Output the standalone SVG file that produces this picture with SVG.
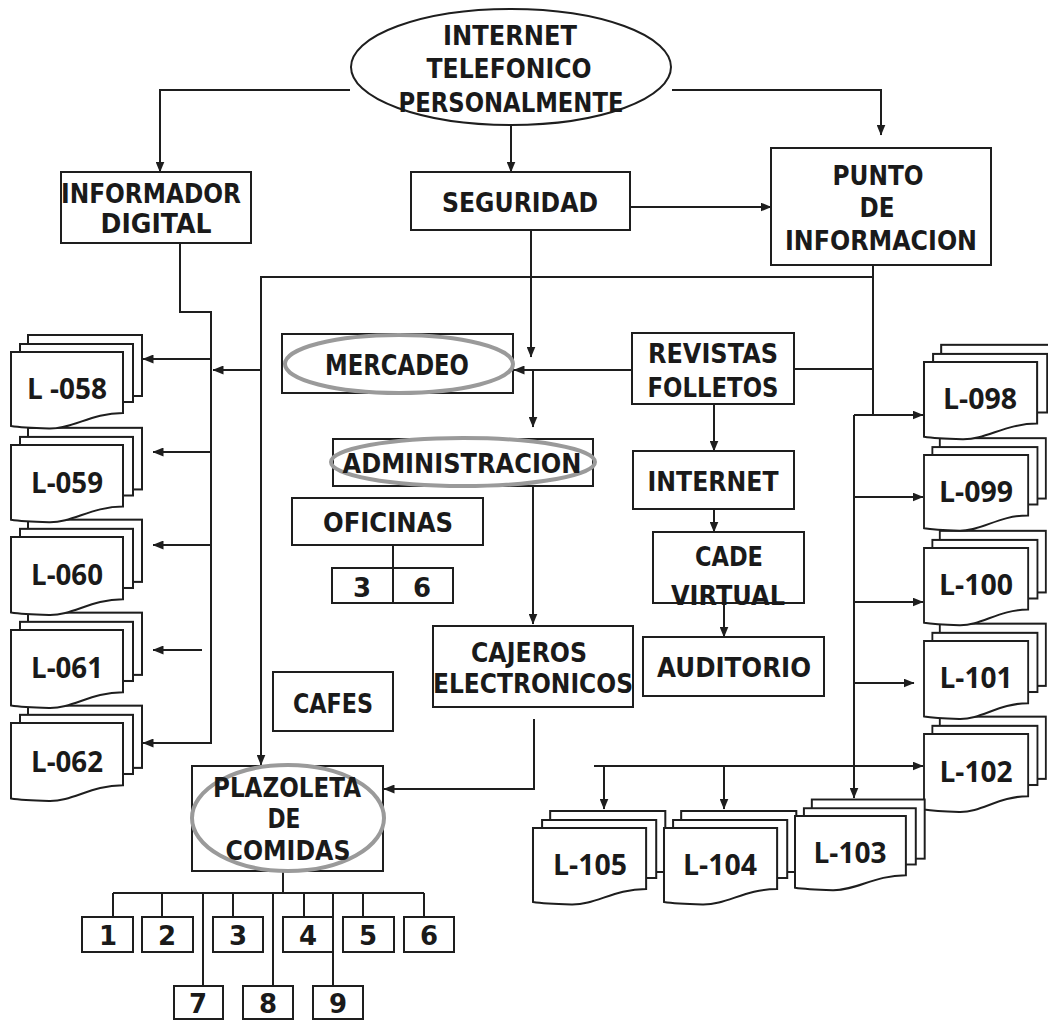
<svg xmlns="http://www.w3.org/2000/svg" xmlns:xlink="http://www.w3.org/1999/xlink" width="1048" height="1021" viewBox="0 0 1048 1021">
  <style>
    .box{fill:#fff;stroke:#1e1e1e;stroke-width:2}
    .ln{fill:none;stroke:#1e1e1e;stroke-width:2}
    .hl{fill:none;stroke:#9a9a9a;stroke-width:4}
    .sheet{fill:#fff;stroke:#1e1e1e;stroke-width:2}
    .lbl{font-family:"DejaVu Sans",Verdana,sans-serif;font-weight:bold;font-size:26px;fill:#1a1a1a;text-anchor:middle}
    .doc{font-family:"Open Sans","Noto Sans",sans-serif;font-weight:bold;font-size:28px;fill:#1a1a1a;text-anchor:middle}
  </style>
  <defs>
    <marker id="ah" markerWidth="11" markerHeight="9" refX="10.5" refY="4.5" orient="auto" markerUnits="userSpaceOnUse">
      <path d="M0,0 L11,4.5 L0,9 Z" fill="#1e1e1e"/>
    </marker>
    <!-- three stacked sheets; front sheet origin at 0,0 -->
    <g id="sheets">
      <rect class="sheet" x="17" y="-17" width="114" height="61"/>
      <rect class="sheet" x="9" y="-8" width="113" height="58"/>
      <path class="sheet" d="M0,0 H112 V61 C80,61 62,77 38,76.5 C22,76 10,75.5 0,74 Z"/>
    </g>
  </defs>

  <rect width="1048" height="1021" fill="#fff"/>

  <!-- connectors -->
  <g id="connectors">
    <path class="ln" d="M350,90 H160 V172" marker-end="url(#ah)"/>
    <path class="ln" d="M672,90 H881 V135" marker-end="url(#ah)"/>
    <path class="ln" d="M511,125 V172" marker-end="url(#ah)"/>
    <path class="ln" d="M630,207 H771" marker-end="url(#ah)"/>

    <path class="ln" d="M180,243 V312 H211 V743 H143" marker-end="url(#ah)"/>
    <path class="ln" d="M211,359 H143" marker-end="url(#ah)"/>
    <path class="ln" d="M211,452 H153" marker-end="url(#ah)"/>
    <path class="ln" d="M211,545 H153" marker-end="url(#ah)"/>
    <path class="ln" d="M202,650 H153" marker-end="url(#ah)"/>

    <path class="ln" d="M873,265 V415 H854"/>
    <path class="ln" d="M854,415 H923" marker-end="url(#ah)"/>
    <path class="ln" d="M873,277 H261 V765" marker-end="url(#ah)"/>
    <path class="ln" d="M261,370 H213" marker-end="url(#ah)"/>

    <path class="ln" d="M531,230 V357" marker-end="url(#ah)"/>
    <path class="ln" d="M632,370 H514" marker-end="url(#ah)"/>
    <path class="ln" d="M533,370 V427" marker-end="url(#ah)"/>
    <path class="ln" d="M533,486 V624" marker-end="url(#ah)"/>
    <path class="ln" d="M393,545 V568"/>

    <path class="ln" d="M794,369 H873"/>
    <path class="ln" d="M714,404 V451" marker-end="url(#ah)"/>
    <path class="ln" d="M714,509 V532" marker-end="url(#ah)"/>
    <path class="ln" d="M724,603 V637" marker-end="url(#ah)"/>

    <path class="ln" d="M534,719 V789 H384" marker-end="url(#ah)"/>

    <path class="ln" d="M854,415 V798" marker-end="url(#ah)"/>
    <path class="ln" d="M854,497 H923" marker-end="url(#ah)"/>
    <path class="ln" d="M854,602 H923" marker-end="url(#ah)"/>
    <path class="ln" d="M854,683 H914" marker-end="url(#ah)"/>
    <path class="ln" d="M594,766 H923" marker-end="url(#ah)"/>
    <path class="ln" d="M604,766 V809" marker-end="url(#ah)"/>
    <path class="ln" d="M724,766 V809" marker-end="url(#ah)"/>

    <path class="ln" d="M283,871 V893 M113,893 H424 M113,893 V917 M162,893 V917 M233,893 V917 M304,893 V917 M363,893 V917 M424,893 V917 M203,893 V986 M273,893 V986 M333,893 V986"/>
  </g>

  <!-- top source -->
  <g id="canales">
    <ellipse cx="511" cy="67" rx="160" ry="58" fill="#fff" stroke="#1e1e1e" stroke-width="2"/>
    <text class="lbl" x="510" y="45" textLength="134" lengthAdjust="spacingAndGlyphs">INTERNET</text>
    <text class="lbl" x="509" y="78" textLength="165" lengthAdjust="spacingAndGlyphs">TELEFONICO</text>
    <text class="lbl" x="511" y="112" textLength="225" lengthAdjust="spacingAndGlyphs">PERSONALMENTE</text>
  </g>

  <g id="informador">
    <rect class="box" x="61" y="172" width="190" height="71"/>
    <text class="lbl" x="151" y="203" textLength="180" lengthAdjust="spacingAndGlyphs">INFORMADOR</text>
    <text class="lbl" x="156" y="233" textLength="111" lengthAdjust="spacingAndGlyphs">DIGITAL</text>
  </g>

  <g id="seguridad">
    <rect class="box" x="411" y="172" width="219" height="58"/>
    <text class="lbl" x="520" y="212" textLength="156" lengthAdjust="spacingAndGlyphs">SEGURIDAD</text>
  </g>

  <g id="punto">
    <rect class="box" x="771" y="148" width="220" height="117"/>
    <text class="lbl" x="878" y="185" textLength="91" lengthAdjust="spacingAndGlyphs">PUNTO</text>
    <text class="lbl" x="877" y="217" textLength="35" lengthAdjust="spacingAndGlyphs">DE</text>
    <text class="lbl" x="881" y="250" textLength="192" lengthAdjust="spacingAndGlyphs">INFORMACION</text>
  </g>

  <g id="mercadeo">
    <rect class="box" x="282" y="334" width="231" height="59"/>
    <ellipse class="hl" cx="399" cy="364" rx="114" ry="29"/>
    <text class="lbl" x="397" y="375" style="font-size:28px" textLength="144" lengthAdjust="spacingAndGlyphs">MERCADEO</text>
  </g>

  <g id="revistas">
    <rect class="box" x="632" y="333" width="162" height="71"/>
    <text class="lbl" x="713" y="363" textLength="130" lengthAdjust="spacingAndGlyphs">REVISTAS</text>
    <text class="lbl" x="713" y="397" textLength="131" lengthAdjust="spacingAndGlyphs">FOLLETOS</text>
  </g>

  <g id="administracion">
    <rect class="box" x="333" y="439" width="260" height="47"/>
    <ellipse class="hl" cx="463" cy="462" rx="132" ry="24"/>
    <text class="lbl" x="462" y="473" textLength="239" lengthAdjust="spacingAndGlyphs">ADMINISTRACION</text>
  </g>

  <g id="internet">
    <rect class="box" x="633" y="451" width="161" height="58"/>
    <text class="lbl" x="713" y="491" textLength="131" lengthAdjust="spacingAndGlyphs">INTERNET</text>
  </g>

  <g id="oficinas">
    <rect class="box" x="292" y="498" width="191" height="47"/>
    <text class="lbl" x="388" y="532" textLength="130" lengthAdjust="spacingAndGlyphs">OFICINAS</text>
  </g>

  <g id="oficinas-numeros">
    <rect class="box" x="332" y="568" width="121" height="35"/>
    <path class="ln" d="M393,568 V603"/>
    <text class="lbl" x="362" y="597">3</text>
    <text class="lbl" x="422" y="597">6</text>
  </g>

  <g id="cade">
    <rect class="box" x="653" y="532" width="151" height="71"/>
    <text class="lbl" x="729" y="566" textLength="68" lengthAdjust="spacingAndGlyphs">CADE</text>
    <text class="lbl" x="728" y="605" textLength="114" lengthAdjust="spacingAndGlyphs">VIRTUAL</text>
  </g>

  <g id="cajeros">
    <rect class="box" x="433" y="626" width="200" height="81"/>
    <text class="lbl" x="529" y="662" textLength="116" lengthAdjust="spacingAndGlyphs">CAJEROS</text>
    <text class="lbl" x="533" y="693" textLength="200" lengthAdjust="spacingAndGlyphs">ELECTRONICOS</text>
  </g>

  <g id="auditorio">
    <rect class="box" x="643" y="637" width="181" height="59"/>
    <text class="lbl" x="734" y="677" textLength="154" lengthAdjust="spacingAndGlyphs">AUDITORIO</text>
  </g>

  <g id="cafes">
    <rect class="box" x="273" y="672" width="120" height="59"/>
    <text class="lbl" x="333" y="713" textLength="80" lengthAdjust="spacingAndGlyphs">CAFES</text>
  </g>

  <g id="plazoleta">
    <rect class="box" x="192" y="766" width="191" height="105"/>
    <ellipse class="hl" cx="288" cy="818" rx="96" ry="53"/>
    <text class="lbl" x="287" y="797" textLength="148" lengthAdjust="spacingAndGlyphs">PLAZOLETA</text>
    <text class="lbl" x="284" y="828" textLength="33" lengthAdjust="spacingAndGlyphs">DE</text>
    <text class="lbl" x="288" y="860" textLength="125" lengthAdjust="spacingAndGlyphs">COMIDAS</text>
  </g>

  <!-- food court stalls -->
  <g id="local-1"><rect class="box" x="82" y="917" width="51" height="35"/><text class="lbl" x="108" y="945">1</text></g>
  <g id="local-2"><rect class="box" x="142" y="917" width="51" height="35"/><text class="lbl" x="167" y="945">2</text></g>
  <g id="local-3"><rect class="box" x="213" y="917" width="50" height="35"/><text class="lbl" x="238" y="945">3</text></g>
  <g id="local-4"><rect class="box" x="283" y="917" width="50" height="35"/><text class="lbl" x="308" y="945">4</text></g>
  <g id="local-5"><rect class="box" x="343" y="917" width="51" height="35"/><text class="lbl" x="368" y="945">5</text></g>
  <g id="local-6"><rect class="box" x="404" y="917" width="50" height="35"/><text class="lbl" x="429" y="945">6</text></g>
  <g id="local-7"><rect class="box" x="174" y="986" width="49" height="33"/><text class="lbl" x="198" y="1013">7</text></g>
  <g id="local-8"><rect class="box" x="243" y="986" width="50" height="33"/><text class="lbl" x="268" y="1013">8</text></g>
  <g id="local-9"><rect class="box" x="313" y="986" width="50" height="33"/><text class="lbl" x="338" y="1013">9</text></g>

  <!-- shop stacks, left column -->
  <g id="l-062"><use xlink:href="#sheets" transform="translate(11,723) scale(1,1.02)"/><text class="doc" x="67" y="772" textLength="72" lengthAdjust="spacingAndGlyphs">L-062</text></g>
  <g id="l-061"><use xlink:href="#sheets" transform="translate(11,630) scale(1,1.02)"/><text class="doc" x="67" y="678" textLength="72" lengthAdjust="spacingAndGlyphs">L-061</text></g>
  <g id="l-060"><use xlink:href="#sheets" transform="translate(11,537) scale(1,1.02)"/><text class="doc" x="67" y="585" textLength="72" lengthAdjust="spacingAndGlyphs">L-060</text></g>
  <g id="l-059"><use xlink:href="#sheets" transform="translate(11,445) scale(1,1.01)"/><text class="doc" x="67" y="493" textLength="72" lengthAdjust="spacingAndGlyphs">L-059</text></g>
  <g id="l-058"><use xlink:href="#sheets" transform="translate(11,352)"/><text class="doc" x="67" y="399" textLength="80" lengthAdjust="spacingAndGlyphs">L -058</text></g>

  <!-- shop stacks, right column -->
  <g id="l-102"><use xlink:href="#sheets" transform="translate(924,734) scale(0.93,1.02)"/><text class="doc" x="976" y="782" textLength="73" lengthAdjust="spacingAndGlyphs">L-102</text></g>
  <g id="l-101"><use xlink:href="#sheets" transform="translate(924,641) scale(0.93,1.02)"/><text class="doc" x="976" y="688" textLength="73" lengthAdjust="spacingAndGlyphs">L-101</text></g>
  <g id="l-100"><use xlink:href="#sheets" transform="translate(924,548) scale(0.93,1.01)"/><text class="doc" x="976" y="595" textLength="74" lengthAdjust="spacingAndGlyphs">L-100</text></g>
  <g id="l-099"><use xlink:href="#sheets" transform="translate(924,455) scale(0.93,0.99)"/><text class="doc" x="976" y="502" textLength="74" lengthAdjust="spacingAndGlyphs">L-099</text></g>
  <g id="l-098"><use xlink:href="#sheets" transform="translate(924,362) scale(1.01,1.01)"/><text class="doc" x="980" y="409" textLength="74" lengthAdjust="spacingAndGlyphs">L-098</text></g>

  <!-- shop stacks, bottom row -->
  <g id="l-105"><use xlink:href="#sheets" transform="translate(533,828) scale(1.01,1)"/><text class="doc" x="590" y="875" textLength="74" lengthAdjust="spacingAndGlyphs">L-105</text></g>
  <g id="l-104"><use xlink:href="#sheets" transform="translate(664,828) scale(1.01,1)"/><text class="doc" x="720" y="875" textLength="74" lengthAdjust="spacingAndGlyphs">L-104</text></g>
  <g id="l-103"><use xlink:href="#sheets" transform="translate(795,816) scale(0.99,0.97)"/><text class="doc" x="850" y="863" textLength="73" lengthAdjust="spacingAndGlyphs">L-103</text></g>
</svg>
